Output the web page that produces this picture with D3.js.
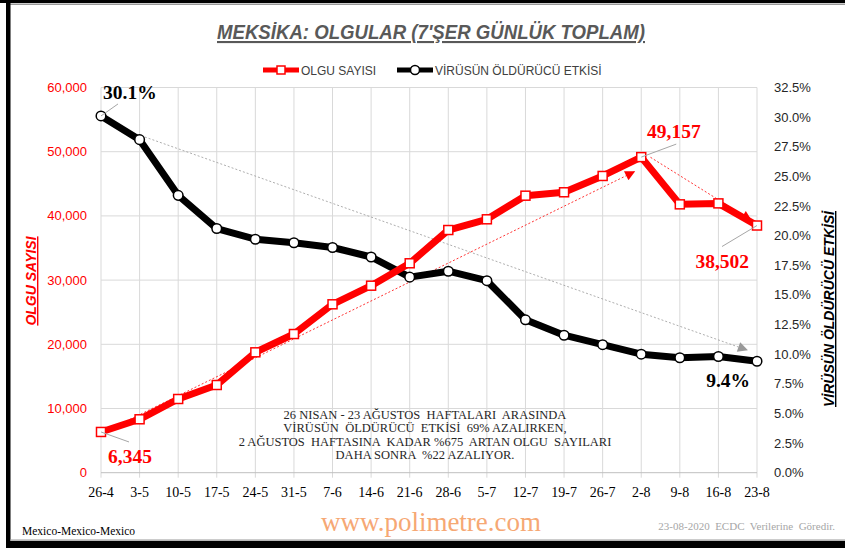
<!DOCTYPE html>
<meta charset="utf-8">
<script src="https://d3js.org/d3.v7.min.js"></script>
<style>
body{margin:0;background:#fff;}
</style>
<div id="chart"></div>
<script>
  // weekly (7 day) totals, Mexico
  var weeks = ["26-4","3-5","10-5","17-5","24-5","31-5","7-6","14-6","21-6","28-6","5-7","12-7","19-7","26-7","2-8","9-8","16-8","23-8"];
  var cases = [6345,8320,11480,13660,18750,21600,26230,29130,32620,37800,39470,43150,43680,46220,49157,41800,41950,38502];
  var lethality = [30.1,28.1,23.4,20.6,19.7,19.4,19.0,18.2,16.5,17.0,16.2,12.9,11.6,10.8,10.0,9.7,9.8,9.4];
  var leftTicks = [0,10000,20000,30000,40000,50000,60000];
  var rightTicks = [0,2.5,5,7.5,10,12.5,15,17.5,20,22.5,25,27.5,30,32.5];

  var W = 845, H = 549;
  var plot = {left:101, right:757, top:87.5, bottom:472.7};

  var svg = d3.select("#chart").append("svg")
    .attr("width",W).attr("height",H);

  // frame
  svg.append("rect").attr("x",0).attr("y",0).attr("width",W).attr("height",3).style("fill","#000");
  svg.append("rect").attr("x",6).attr("y",3.5).attr("width",W-6).attr("height",1.5).style("fill","#999");
  svg.append("rect").attr("x",6).attr("y",0).attr("width",4.5).attr("height",548).style("fill","#000");
  svg.append("rect").attr("x",10).attr("y",539.5).attr("width",W-10).attr("height",1.2).style("fill","#999");
  svg.append("rect").attr("x",6).attr("y",541).attr("width",W-6).attr("height",7).style("fill","#000");

  var x = d3.scalePoint().domain(weeks).range([plot.left, plot.right]);
  var xi = d3.scaleLinear().domain([0, weeks.length-1]).range([plot.left, plot.right]);
  var yL = d3.scaleLinear().domain([0,60000]).range([plot.bottom, plot.top]);
  var yR = d3.scaleLinear().domain([0,32.5]).range([plot.bottom, plot.top]);

  // grid
  svg.append("g").selectAll("line").data(leftTicks.slice(1)).enter().append("line")
    .attr("x1",plot.left).attr("x2",plot.right)
    .attr("y1",function(d){return yL(d);}).attr("y2",function(d){return yL(d);})
    .style("stroke","#d9d9d9").style("stroke-width",1);
  svg.append("g").selectAll("line").data(weeks).enter().append("line")
    .attr("x1",function(d){return x(d);}).attr("x2",function(d){return x(d);})
    .attr("y1",plot.top).attr("y2",plot.bottom+5)
    .style("stroke","#d9d9d9").style("stroke-width",1);
  svg.append("line").attr("x1",plot.left).attr("x2",plot.right)
    .attr("y1",plot.bottom).attr("y2",plot.bottom).style("stroke","#bfbfbf");

  // left axis
  svg.append("g").selectAll("text").data(leftTicks).enter().append("text")
    .attr("x",87).attr("y",function(d){return yL(d)+4.5;})
    .attr("text-anchor","end")
    .style("font-family","Liberation Sans, Arial").style("font-size","13px")
    .style("fill","#ff0000")
    .text(function(d){return d3.format(",")(d);});

  // right axis
  svg.append("g").selectAll("text").data(rightTicks).enter().append("text")
    .attr("x",774).attr("y",function(d){return yR(d)+4.5;})
    .style("font-family","Liberation Sans, Arial").style("font-size","13px")
    .style("fill","#262626")
    .text(function(d){return d.toFixed(1)+"%";});

  // x axis labels
  svg.append("g").selectAll("text").data(weeks).enter().append("text")
    .attr("x",function(d){return x(d);}).attr("y",497)
    .attr("text-anchor","middle")
    .style("font-family","Liberation Serif, Times New Roman").style("font-size","14px")
    .style("fill","#000")
    .text(function(d){return d;});

  // axis titles
  svg.append("text")
    .attr("transform","translate(36,281) rotate(-90)")
    .attr("text-anchor","middle")
    .style("font-family","Liberation Sans, Arial").style("font-size","14px")
    .style("font-weight","bold").style("font-style","italic")
    .style("text-decoration","underline").style("fill","#ff0000")
    .text("OLGU SAYISI");
  svg.append("text")
    .attr("transform","translate(834,309) rotate(-90)")
    .attr("text-anchor","middle")
    .style("font-family","Liberation Sans, Arial").style("font-size","14px")
    .style("font-weight","bold").style("font-style","italic")
    .style("text-decoration","underline").style("fill","#000")
    .text("VİRÜSÜN ÖLDÜRÜCÜ ETKİSİ");

  // title
  svg.append("text")
    .attr("x",431).attr("y",39)
    .attr("text-anchor","middle")
    .attr("textLength",428).attr("lengthAdjust","spacingAndGlyphs")
    .style("font-family","Liberation Sans, Arial").style("font-size","21px")
    .style("font-weight","bold").style("font-style","italic")
    .style("text-decoration","underline").style("fill","#595959")
    .text("MEKSİKA: OLGULAR (7'ŞER GÜNLÜK TOPLAM)");

  // legend
  var lg = svg.append("g");
  lg.append("line").attr("x1",263).attr("x2",299).attr("y1",70).attr("y2",70)
    .style("stroke","#ff0000").style("stroke-width",5);
  lg.append("rect").attr("x",277).attr("y",66).attr("width",8).attr("height",8)
    .style("fill","#fff").style("stroke","#ff0000").style("stroke-width",1.5);
  lg.append("text").attr("x",301).attr("y",74.5)
    .style("font-family","Liberation Sans, Arial").style("font-size","12px").style("fill","#404040")
    .text("OLGU SAYISI");
  lg.append("line").attr("x1",397).attr("x2",433).attr("y1",70).attr("y2",70)
    .style("stroke","#000").style("stroke-width",5);
  lg.append("circle").attr("cx",415).attr("cy",70).attr("r",4.5)
    .style("fill","#fff").style("stroke","#000").style("stroke-width",1.5);
  lg.append("text").attr("x",435).attr("y",74.5)
    .style("font-family","Liberation Sans, Arial").style("font-size","12px").style("fill","#404040")
    .text("VİRÜSÜN ÖLDÜRÜCÜ ETKİSİ");

  // arrow markers
  var defs = svg.append("defs");
  [["arrRed","#ff0000"],["arrGray","#999999"]].forEach(function(m){
    defs.append("marker").attr("id",m[0])
      .attr("viewBox","0 0 10 10").attr("refX",9).attr("refY",5)
      .attr("markerWidth",12).attr("markerHeight",10).attr("markerUnits","userSpaceOnUse")
      .attr("orient","auto")
      .append("path").attr("d","M0,0 L10,5 L0,10 Z").style("fill",m[1]);
  });

  // trend arrows
  svg.append("line")
    .attr("x1",xi(0.55)).attr("y1",yR(29.0))
    .attr("x2",xi(16.74)).attr("y2",yR(10.35))
    .style("stroke","#999").style("stroke-width",0.8).style("stroke-dasharray","2,2")
    .attr("marker-end","url(#arrGray)");
  svg.append("line")
    .attr("x1",xi(0.19)).attr("y1",yL(6650))
    .attr("x2",xi(13.82)).attr("y2",yL(46880))
    .style("stroke","#ff0000").style("stroke-width",0.8).style("stroke-dasharray","2,2")
    .attr("marker-end","url(#arrRed)");
  svg.append("line")
    .attr("x1",xi(14.24)).attr("y1",yL(49126))
    .attr("x2",xi(16.84)).attr("y2",yL(39360))
    .style("stroke","#ff0000").style("stroke-width",0.8).style("stroke-dasharray","2,2")
    .attr("marker-end","url(#arrRed)");

  // series lines
  var lineL = d3.line().x(function(d,i){return x(weeks[i]);}).y(function(d){return yL(d);});
  var lineR = d3.line().x(function(d,i){return x(weeks[i]);}).y(function(d){return yR(d);});

  svg.append("path").datum(lethality).attr("d",lineR)
    .style("fill","none").style("stroke","#000").style("stroke-width",7).style("stroke-linejoin","round");
  svg.append("path").datum(cases).attr("d",lineL)
    .style("fill","none").style("stroke","#ff0000").style("stroke-width",7).style("stroke-linejoin","round");

  svg.append("g").selectAll("circle").data(lethality).enter().append("circle")
    .attr("cx",function(d,i){return x(weeks[i]);}).attr("cy",function(d){return yR(d);})
    .attr("r",4.8)
    .style("fill","#fff").style("stroke","#000").style("stroke-width",1.5);
  svg.append("g").selectAll("rect").data(cases).enter().append("rect")
    .attr("x",function(d,i){return x(weeks[i])-4.5;}).attr("y",function(d){return yL(d)-4.5;})
    .attr("width",9).attr("height",9)
    .style("fill","#fff").style("stroke","#ff0000").style("stroke-width",1.5);

  // data labels with leader lines
  var n = weeks.length;
  var labels = [
    {i:0, v:lethality[0], s:yR, txt:lethality[0].toFixed(1)+"%", col:"#000", dx:17, dy:-12, tx:103, ty:99, anchor:"start"},
    {i:0, v:cases[0], s:yL, txt:d3.format(",")(cases[0]), col:"#ff0000", dx:28, dy:10, tx:108, ty:463, anchor:"start"},
    {i:14, v:cases[14], s:yL, txt:d3.format(",")(cases[14]), col:"#ff0000", dx:35, dy:-13, tx:647, ty:138, anchor:"start"},
    {i:n-1, v:cases[n-1], s:yL, txt:d3.format(",")(cases[n-1]), col:"#ff0000", dx:-35, dy:21, tx:749, ty:268, anchor:"end"},
    {i:n-1, v:lethality[n-1], s:yR, txt:lethality[n-1].toFixed(1)+"%", col:"#000", dx:0, dy:0, tx:750, ty:387, anchor:"end"}
  ];
  labels.forEach(function(l){
    var px = x(weeks[l.i]), py = l.s(l.v);
    if (l.dx || l.dy) {
      svg.append("line").attr("x1",px).attr("y1",py).attr("x2",px+l.dx).attr("y2",py+l.dy)
        .style("stroke","#a6a6a6").style("stroke-width",1);
    }
    svg.append("text").attr("x",l.tx).attr("y",l.ty).attr("text-anchor",l.anchor)
      .style("font-family","Liberation Serif, Times New Roman").style("font-size","19.5px")
      .style("font-weight","bold").style("fill",l.col)
      .text(l.txt);
  });

  // note
  var note = ["26 NISAN - 23 AĞUSTOS  HAFTALARI  ARASINDA",
              "VİRÜSÜN  ÖLDÜRÜCÜ  ETKİSİ  69% AZALIRKEN,",
              "2 AĞUSTOS  HAFTASINA  KADAR %675  ARTAN OLGU  SAYILARI",
              "DAHA SONRA  %22 AZALIYOR."];
  svg.append("g").selectAll("text").data(note).enter().append("text")
    .attr("x",425).attr("y",function(d,i){return 419 + i*13.4;})
    .attr("text-anchor","middle")
    .style("font-family","Liberation Serif, Times New Roman").style("font-size","12.5px")
    .style("fill","#262626").style("white-space","pre")
    .text(function(d){return d;});

  // footer
  svg.append("text").attr("x",22).attr("y",535)
    .style("font-family","Liberation Serif, Times New Roman").style("font-size","11.5px").style("fill","#000")
    .text("Mexico-Mexico-Mexico");
  svg.append("text").attr("x",431).attr("y",531).attr("text-anchor","middle")
    .style("font-family","Liberation Serif, Times New Roman").style("font-size","27px").style("fill","#f6a874")
    .text("www.polimetre.com");
  svg.append("text").attr("x",835).attr("y",530).attr("text-anchor","end")
    .style("font-family","Liberation Serif, Times New Roman").style("font-size","11px").style("fill","#a6a6a6")
    .style("white-space","pre")
    .text("23-08-2020  ECDC  Verilerine  Göredir.");
</script>
